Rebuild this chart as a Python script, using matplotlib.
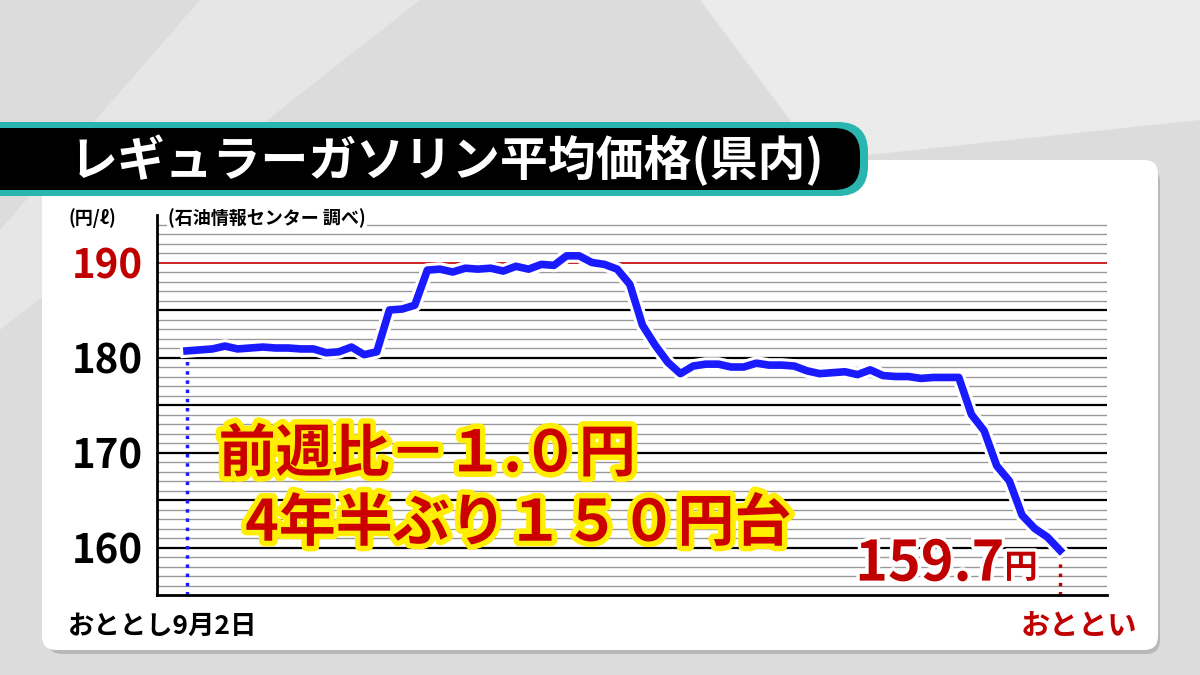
import matplotlib.pyplot as plt
import matplotlib.patheffects as pe
from matplotlib.patches import FancyBboxPatch, Polygon
import numpy as np

plt.rcParams['font.family'] = ['Noto Sans CJK JP', 'DejaVu Sans']

# weekly regular gasoline average price (yen / litre)
prices = [180.7, 180.8, 180.9, 181.2, 180.9, 181.0, 181.1, 181.0, 181.0, 180.9,
          180.9, 180.5, 180.6, 181.1, 180.3, 180.6, 185.0, 185.1, 185.5, 189.2,
          189.3, 189.0, 189.4, 189.3, 189.4, 189.1, 189.6, 189.3, 189.8, 189.7,
          190.7, 190.7, 190.0, 189.8, 189.3, 187.7, 183.4, 181.3, 179.5, 178.3,
          179.1, 179.3, 179.3, 179.0, 179.0, 179.4, 179.2, 179.2, 179.1, 178.6,
          178.3, 178.4, 178.5, 178.2, 178.7, 178.1, 178.0, 178.0, 177.8, 177.9,
          177.9, 177.9, 174.0, 172.3, 168.6, 167.0, 163.4, 162.0, 161.1, 159.7]
y_ticks = [160, 170, 180, 190]
x = np.arange(len(prices))
n = len(prices)

fig = plt.figure(figsize=(12, 6.75), dpi=100)
fig.patch.set_facecolor('#dcdcdc')

# background decoration
bg = fig.add_axes([0, 0, 1, 1])
bg.set_xlim(0, 1200); bg.set_ylim(675, 0); bg.axis('off')
bg.add_patch(Polygon([[700, 0], [1200, 0], [1200, 120], [820, 160]], color='#ebebeb', lw=0))
bg.add_patch(Polygon([[0, 230], [200, 0], [420, 0], [0, 330]], color='#e6e6e6', lw=0))
bg.add_patch(FancyBboxPatch((48, 168), 1112, 486, boxstyle='round,pad=0,rounding_size=14',
                            fc='#a0a0a0', ec='none', alpha=0.6))
bg.add_patch(FancyBboxPatch((42, 160), 1116, 490, boxstyle='round,pad=0,rounding_size=14',
                            fc='white', ec='none'))
bg.add_patch(FancyBboxPatch((-30, 122), 898, 74, boxstyle='round,pad=0,rounding_size=30',
                            fc='#2bb5b0', ec='none'))
bg.add_patch(FancyBboxPatch((-30, 128), 890, 62, boxstyle='round,pad=0,rounding_size=26',
                            fc='black', ec='none'))

def px(xp, yp):
    return xp / 1200, 1 - yp / 675

fig.text(*px(70, 160), 'レギュラーガソリン平均価格(県内)', color='white', fontsize=34.5,
         fontweight='bold', va='center', ha='left')
fig.text(*px(68, 218), '(円/ℓ)', fontsize=13, fontweight='bold', va='center')
fig.text(*px(168, 218), '(石油情報センター 調べ)', fontsize=13, fontweight='bold', va='center',
         bbox=dict(fc='white', ec='none', pad=1))
fig.text(*px(68, 626), 'おととし9月2日', fontsize=19, fontweight='bold', va='center')
fig.text(*px(1137, 626), 'おととい', fontsize=21, fontweight='bold', va='center', ha='right',
         color='#c00000')

# chart
ax = fig.add_axes([157 / 1200, 1 - 595 / 675, 950 / 1200, 380 / 675])
ax.set_facecolor('white')
step = 873 / (n - 1)
ax.set_xlim(-30 / step, (n - 1) + 47 / step)
ax.set_ylim(155, 195)
for v in range(156, 195):
    if v == 190:
        ax.axhline(v, color='#c00000', lw=1.2, zorder=1)
    elif v % 5 == 0:
        ax.axhline(v, color='black', lw=1.6, zorder=1)
    else:
        ax.axhline(v, color='#999999', lw=1.0, zorder=1)
for s in ['top', 'right']:
    ax.spines[s].set_visible(False)
ax.spines['left'].set_linewidth(2)
ax.spines['bottom'].set_linewidth(2)
ax.set_xticks([])
ax.set_yticks(y_ticks)
ax.set_yticklabels([str(t) for t in y_ticks], fontsize=29, fontweight='bold')
ax.tick_params(axis='y', length=0, pad=10)
ax.get_yticklabels()[-1].set_color('#c00000')

ax.vlines(0, 155, prices[0], colors='#1a1aff', linestyles=':', lw=2.5, zorder=2)
ax.vlines(n - 1, 155, prices[-1], colors='#c00000', linestyles=':', lw=2.5, zorder=2)
ax.plot(x, prices, color='#1a1aff', lw=5.5, zorder=3,
        path_effects=[pe.Stroke(linewidth=10, foreground='white'), pe.Normal()])

outline = [pe.Stroke(linewidth=8, foreground='#ffee00'), pe.Normal()]
ax.text(2.5, 169.8, '前週比－１.０円', fontsize=41, fontweight='bold', color='#cc0000',
        va='center', path_effects=outline)
ax.text(4.6, 162.5, '4年半ぶり１５０円台', fontsize=41, fontweight='bold', color='#cc0000',
        va='center', path_effects=outline)
white = [pe.Stroke(linewidth=5, foreground='white'), pe.Normal()]
ax.text(64.6, 158.2, '159.7', fontsize=40, fontweight='bold', color='#c00000',
        ha='right', va='center', path_effects=white)
ax.text(64.6, 157.8, '円', fontsize=24, fontweight='bold', color='#c00000',
        ha='left', va='center', path_effects=white)

fig.savefig('out.png', dpi=100, facecolor=fig.get_facecolor())
